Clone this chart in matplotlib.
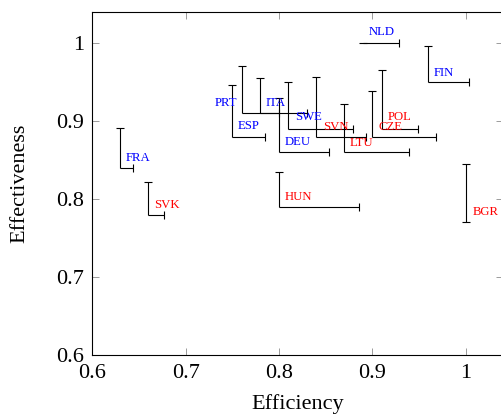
import matplotlib
matplotlib.use("Agg")
import matplotlib.pyplot as plt

plt.rcParams['font.family'] = ['Liberation Serif', 'DejaVu Serif']

# country codes, efficiency (x), effectiveness (y) and the upper ends of the bars
countries = ["FRA", "SVK", "ESP", "PRT", "ITA", "DEU", "SWE", "SVN",
             "LTU", "CZE", "POL", "NLD", "FIN", "HUN", "BGR"]
efficiency = [0.63, 0.66, 0.75, 0.76, 0.78, 0.80, 0.81, 0.84,
              0.87, 0.90, 0.91, 0.89, 0.96, 0.80, 1.00]
effectiveness = [0.84, 0.78, 0.88, 0.91, 0.91, 0.86, 0.89, 0.88,
                 0.86, 0.88, 0.89, 1.00, 0.95, 0.79, 0.77]
efficiency_hi = [0.644, 0.677, 0.785, 0.800, 0.830, 0.854, 0.879, 0.893,
                 0.939, 0.968, 0.949, 0.929, 1.004, 0.886, 1.00]
effectiveness_hi = [0.891, 0.822, 0.946, 0.970, 0.955, 0.930, 0.950, 0.957,
                    0.922, 0.939, 0.965, 1.00, 0.996, 0.834, 0.845]
group = ["b", "r", "b", "b", "b", "b", "b", "r",
         "r", "r", "r", "b", "b", "r", "r"]

colors = {"b": "#0000ff", "r": "#ff0000"}
# label offsets from the point, in pixels (x right, y up)
label_off = {"FRA": (5.3, 10), "SVK": (6, 9.3), "ESP": (5.3, 10.3),
             "PRT": (-4, 10), "ITA": (5.3, 10), "DEU": (5.7, 10.3),
             "SWE": (6.7, 12), "SVN": (6.4, 10), "LTU": (5.7, 8.7),
             "CZE": (5.7, 9.3), "POL": (6, 12), "NLD": (6, 10.6),
             "FIN": (5.7, 9), "HUN": (5.7, 10), "BGR": (6.6, 10.3)}

fig = plt.figure(figsize=(5.02, 4.15), dpi=100)
ax = fig.add_axes([0.1839, 0.1446, 1.002 - 0.1839, 0.9716 - 0.1446])

lw = 0.8
for c, x, y, xh, yh, g in zip(countries, efficiency, effectiveness,
                               efficiency_hi, effectiveness_hi, group):
    ax.plot([x, xh], [y, y], color="k", lw=lw, solid_capstyle="butt")
    ax.plot([x, x], [y, yh], color="k", lw=lw, solid_capstyle="butt")
    # caps: zero-length bars get a horizontal mark at the point
    ax.plot([x], [yh], marker="_", ms=6, mew=lw, color="k")
    if xh > x:
        ax.plot([xh], [y], marker="|", ms=6, mew=lw, color="k")
    else:
        ax.plot([xh], [y], marker="_", ms=6, mew=lw, color="k")
    dx, dy = label_off[c]
    ax.annotate(c, (x, y), xytext=(dx * 0.72, dy * 0.72),
                textcoords="offset points",
                ha="right" if dx < 0 else "left", va="center",
                color=colors[g], fontsize=9.2)

ax.set_xlim(0.6, 1.04)
ax.set_ylim(0.6, 1.04)
ax.set_xticks([0.6, 0.7, 0.8, 0.9, 1.0])
ax.set_xticklabels(["0.6", "0.7", "0.8", "0.9", "1"])
ax.set_yticks([0.6, 0.7, 0.8, 0.9, 1.0])
ax.set_yticklabels(["0.6", "0.7", "0.8", "0.9", "1"])
ax.tick_params(direction="in", length=5, width=0.6, color="0.55",
               top=True, right=True, labelsize=16)
ax.tick_params(axis="x", pad=6.5)
ax.tick_params(axis="y", pad=6)
for s in ax.spines.values():
    s.set_linewidth(0.8)

ax.set_xlabel("Efficiency", fontsize=16, labelpad=8)
ax.set_ylabel("Effectiveness", fontsize=16, labelpad=19)

fig.savefig("out.png", dpi=100)
